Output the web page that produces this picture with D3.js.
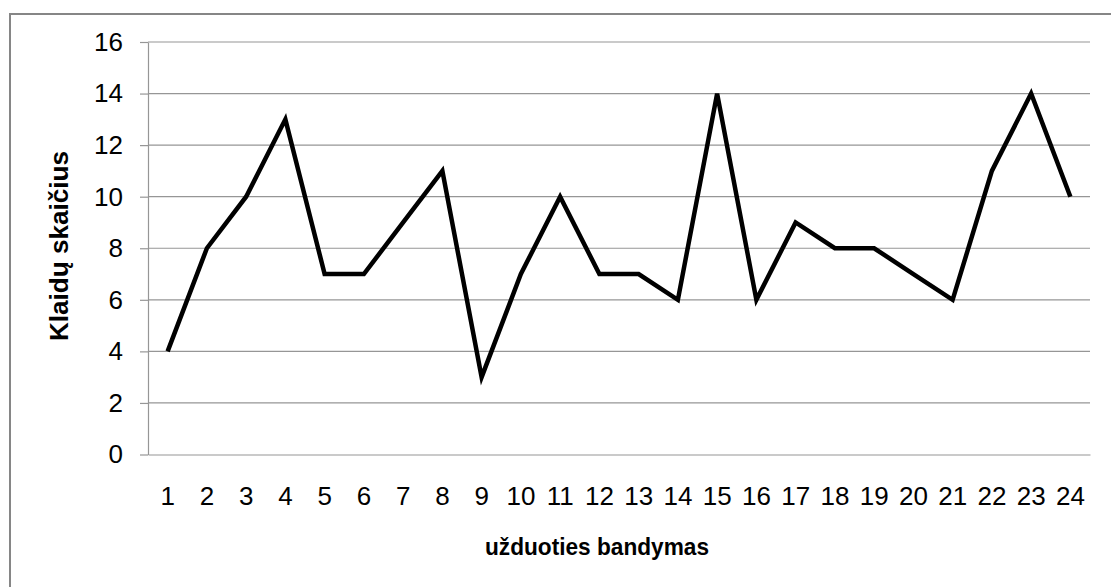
<!DOCTYPE html>
<html>
<head>
<meta charset="utf-8">
<script src="https://cdn.jsdelivr.net/npm/d3@7"></script>
<style>
  html, body { margin: 0; padding: 0; background: #fff; }
  svg { display: block; }
</style>
</head>
<body>
<svg id="chart" width="1111" height="587"></svg>
<script>
const categories = ["1","2","3","4","5","6","7","8","9","10","11","12","13","14","15","16","17","18","19","20","21","22","23","24"];
const values = [4, 8, 10, 13, 7, 7, 9, 11, 3, 7, 10, 7, 7, 6, 14, 6, 9, 8, 8, 7, 6, 11, 14, 10];
const yTicks = [0, 2, 4, 6, 8, 10, 12, 14, 16];
const xTitle = "užduoties bandymas";
const yTitle = "Klaidų skaičius";

const svg = d3.select("#chart");
const plot = { left: 148, right: 1090, top: 42, bottom: 454.5 };

// outer border
svg.append("rect")
  .attr("x", 10).attr("y", 14)
  .attr("width", 1120).attr("height", 600)
  .attr("fill", "none").attr("stroke", "#868686").attr("stroke-width", 2);

const x = d3.scaleBand().domain(categories).range([plot.left, plot.right]).paddingInner(0).paddingOuter(0);
const y = d3.scaleLinear().domain([0, 16]).range([plot.bottom, plot.top]);

// gridlines
svg.append("g").selectAll("line").data(yTicks.filter(d => d > 0)).join("line")
  .attr("x1", plot.left).attr("x2", plot.right)
  .attr("y1", d => y(d)).attr("y2", d => y(d))
  .attr("stroke", "#969696").attr("stroke-width", 1.2);

// y axis
const yAxis = d3.axisLeft(y).tickValues(yTicks).tickSize(8).tickPadding(17).tickSizeOuter(0);
const gy = svg.append("g").attr("transform", `translate(${plot.left},0)`).call(yAxis);
gy.select(".domain").attr("stroke", "#969696").attr("stroke-width", 1.2);
gy.selectAll(".tick line").attr("stroke", "#969696").attr("stroke-width", 1.2);
gy.selectAll(".tick text")
  .attr("font-family", "Liberation Sans, Arial, sans-serif")
  .attr("font-size", 26).attr("fill", "#000");

// x axis
const xAxis = d3.axisBottom(x).tickSize(0).tickPadding(32).tickSizeOuter(0);
const gx = svg.append("g").attr("transform", `translate(0,${plot.bottom})`).call(xAxis);
gx.select(".domain").attr("stroke", "#969696").attr("stroke-width", 1.2);
gx.selectAll(".tick text")
  .attr("font-family", "Liberation Sans, Arial, sans-serif")
  .attr("font-size", 26).attr("fill", "#000");

// line
const line = d3.line()
  .x((d, i) => x(categories[i]) + x.bandwidth() / 2)
  .y(d => y(d));
svg.append("path").datum(values)
  .attr("d", line)
  .attr("fill", "none").attr("stroke", "#000").attr("stroke-width", 4.5)
  .attr("stroke-linejoin", "miter").attr("stroke-miterlimit", 4);

// titles
svg.append("text")
  .attr("x", 597).attr("y", 555)
  .attr("text-anchor", "middle")
  .attr("font-family", "Liberation Sans, Arial, sans-serif")
  .attr("font-weight", "bold").attr("font-size", 24).attr("fill", "#000")
  .attr("textLength", 224).attr("lengthAdjust", "spacingAndGlyphs")
  .text(xTitle);

svg.append("text")
  .attr("transform", `translate(68,246) rotate(-90)`)
  .attr("text-anchor", "middle")
  .attr("font-family", "Liberation Sans, Arial, sans-serif")
  .attr("font-weight", "bold").attr("font-size", 25).attr("fill", "#000")
  .attr("textLength", 190).attr("lengthAdjust", "spacingAndGlyphs")
  .text(yTitle);
</script>
</body>
</html>
